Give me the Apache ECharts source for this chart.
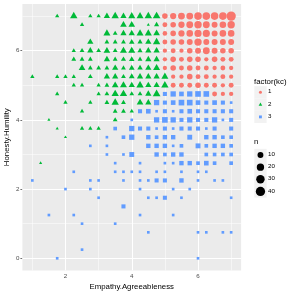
<!DOCTYPE html>
<html><head><meta charset="utf-8">
<script src="https://cdn.jsdelivr.net/npm/echarts@6/dist/echarts.min.js"></script>
<style>html,body{margin:0;padding:0;background:#fff}#c{width:294px;height:294px}</style>
</head><body><div id="c"></div>
<script>
const xTicks = [2, 4, 6];
const yTicks = [0, 2, 4, 6];
const xMinor = [1, 3, 5, 7];
const yMinor = [1, 3, 5, 7];
const kcLevels = ['1', '2', '3'];
const kcColors = ['#F8766D', '#00BA38', '#619CFF'];
const sizeBreaks = [10, 20, 30, 40];

// [Empathy.Agreeableness, Honesty.Humility, n]
const kc1 = [
 [5,7,8],[5.25,7,12],[5.5,7,16],[5.75,7,16],[6,7,22],[6.25,7,22],[6.5,7,22],[6.75,7,22],[7,7,40],
 [5,6.75,5],[5.25,6.75,8],[5.5,6.75,12],[5.75,6.75,16],[6,6.75,20],[6.25,6.75,16],[6.5,6.75,10],[6.75,6.75,14],[7,6.75,20],
 [5,6.5,4],[5.25,6.5,8],[5.5,6.5,12],[5.75,6.5,14],[6,6.5,18],[6.25,6.5,18],[6.5,6.5,10],[6.75,6.5,14],[7,6.5,14],
 [5,6.25,5],[5.25,6.25,8],[5.5,6.25,8],[5.75,6.25,10],[6,6.25,20],[6.25,6.25,10],[6.5,6.25,10],[6.75,6.25,10],[7,6.25,10],
 [5,6,3],[5.25,6,5],[5.5,6,3],[5.75,6,8],[6,6,10],[6.25,6,16],[6.5,6,10],[6.75,6,8],[7,6,8],
 [5,5.75,3],[5.25,5.75,8],[5.5,5.75,5],[5.75,5.75,8],[6,5.75,8],[6.25,5.75,3],[6.5,5.75,8],[6.75,5.75,5],[7,5.75,5],
 [5,5.5,3],[5.25,5.5,8],[5.5,5.5,5],[5.75,5.5,8],[6,5.5,5],[6.25,5.5,5],[6.5,5.5,3],[6.75,5.5,5],[7,5.5,3],
 [5.25,5.25,3],[5.5,5.25,3],[5.75,5.25,8],[6,5.25,5],[6.25,5.25,5],[6.5,5.25,3],[6.75,5.25,5],[7,5.25,3],
 [5.25,5,5],[5.5,5,5],[5.75,5,5],[6,5,8],[6.25,5,5],[6.5,5,5],[6.75,5,3],[7,5,5],
 [6.5,4.75,5],[6.75,4.75,3],[7,4.75,3]
];
const kc2 = [
 [1.75,7,2],[2.25,7,14],[2.75,7,2],[3,7,2],[3.25,7,8],[3.5,7,14],[3.75,7,8],[4,7,12],[4.25,7,12],[4.5,7,14],[4.75,7,16],
 [2.5,6.75,2],[3.75,6.75,10],[4,6.75,10],[4.5,6.75,1],[4.75,6.75,4],
 [3.25,6.5,12],[3.5,6.5,3],[3.75,6.5,8],[4,6.5,8],[4.25,6.5,12],[4.5,6.5,12],[4.75,6.5,10],
 [2.75,6.25,8],[3.25,6.25,3],[3.5,6.25,3],[3.75,6.25,3],[4,6.25,5],[4.25,6.25,4],[4.5,6.25,8],[4.75,6.25,14],
 [2.25,6,2],[2.5,6,3],[2.75,6,8],[3,6,3],[3.25,6,10],[3.5,6,3],[3.75,6,12],[4,6,12],[4.25,6,4],[4.5,6,8],[4.75,6,8],
 [2.25,5.75,3],[2.5,5.75,3],[2.75,5.75,3],[3.25,5.75,8],[3.5,5.75,3],[3.75,5.75,4],[4,5.75,5],[4.25,5.75,3],[4.5,5.75,8],[4.75,5.75,8],
 [2.5,5.5,10],[2.75,5.5,3],[3,5.5,3],[3.25,5.5,3],[3.5,5.5,8],[3.75,5.5,3],[4,5.5,6],[4.25,5.5,5],[4.5,5.5,8],[4.75,5.5,12],
 [1,5.25,2],[1.75,5.25,2],[2,5.25,2],[2.25,5.25,2],[2.75,5.25,3],[3.25,5.25,8],[3.5,5.25,8],[3.75,5.25,3],[4,5.25,6],[4.25,5.25,8],[4.5,5.25,8],[4.75,5.25,8],[5,5.25,12],
 [2.25,5,2],[2.5,5,2],[3,5,2],[3.25,5,3],[3.5,5,10],[3.75,5,12],[4,5,8],[4.25,5,14],[4.5,5,8],[4.75,5,8],[5,5,14],
 [1.75,4.75,2],[3,4.75,2],[3.25,4.75,3],[3.5,4.75,14],[3.75,4.75,14],[4,4.75,3],[4.25,4.75,3],[4.5,4.75,8],[4.75,4.75,16],
 [2,4.5,2],[2.75,4.5,2],[3.25,4.5,3],[3.5,4.5,14],[3.75,4.5,3],[4.25,4.5,10],[4.5,4.5,8],
 [2.5,4.25,2],[3.5,4.25,3],[3.75,4.25,3],[4,4.25,2],
 [1.5,4,1],[3.5,4,3],
 [1.75,3.75,1],[2.5,3.75,2],[2.75,3.75,2],[3,3.75,2],
 [2,3.5,1],
 [1.25,2.75,1]
];
const kc3 = [
 [5,4.75,3],[5.25,4.75,8],[5.5,4.75,5],[5.75,4.75,8],[6,4.75,10],[6.25,4.75,10],
 [4.75,4.5,8],[5,4.5,3],[5.25,4.5,5],[5.5,4.5,10],[5.75,4.5,10],[6,4.5,5],[6.25,4.5,3],[6.5,4.5,5],[6.75,4.5,3],[7,4.5,1],
 [4.25,4.25,3],[4.5,4.25,5],[4.75,4.25,1],[5,4.25,3],[5.25,4.25,1],[5.5,4.25,3],[5.75,4.25,5],[6,4.25,3],[6.25,4.25,3],[6.5,4.25,3],[6.75,4.25,3],[7,4.25,3],
 [4,4,1],[4.75,4,8],[5,4,10],[5.25,4,8],[5.5,4,3],[5.75,4,8],[6,4,3],[6.25,4,3],[6.5,4,8],[6.75,4,1],[7,4,3],
 [3.5,3.75,2],[4,3.75,8],[4.25,3.75,3],[4.5,3.75,3],[4.75,3.75,1],[5,3.75,3],[5.25,3.75,1],[5.5,3.75,3],[5.75,3.75,3],[6,3.75,3],[6.25,3.75,1],[6.5,3.75,3],[7,3.75,3],
 [3.25,3.5,1],[3.75,3.5,2],[4,3.5,8],[4.5,3.5,4],[4.75,3.5,2],[5,3.5,4],[5.25,3.5,4],[5.75,3.5,6],[6.25,3.5,4],[6.5,3.5,4],[6.75,3.5,2],[7,3.5,2],
 [2.75,3.25,1],[3.25,3.25,1],[4.5,3.25,4],[4.75,3.25,4],[5,3.25,4],[5.25,3.25,1],[5.5,3.25,2],[6,3.25,6],[6.25,3.25,2],[6.5,3.25,4],[6.75,3.25,4],[7,3.25,2],
 [3.25,3,1],[3.75,3,1],[4,3,6],[4.75,3,4],[5,3,2],[5.25,3,4],[5.5,3,4],[6.25,3,2],[6.5,3,2],[6.75,3,2],[7,3,2],
 [3.5,2.75,1],[4.25,2.75,1],[5,2.75,1],[5.25,2.75,1],[5.5,2.75,4],[5.75,2.75,4],[6,2.75,2],[6.25,2.75,5],[6.5,2.75,2],[7,2.75,2],
 [2.25,2.5,1],[3.5,2.5,1],[3.75,2.5,1],[4,2.5,1],[4.25,2.5,1],[4.75,2.5,1],[5,2.5,1],[5.5,2.5,1],[6,2.5,1],[6.25,2.5,1],
 [1,2.25,1],[2.75,2.25,1],[3,2.25,1],[3.75,2.25,1],[4.25,2.25,1],[4.5,2.25,1],[4.75,2.25,3],[5,2.25,3],[5.5,2.25,4],[6,2.25,1],[6.5,2.25,1],[6.75,2.25,1],
 [2,2,1],[2.75,2,1],[4.25,2,1],[5.25,2,1],[5.75,2,1],
 [3,1.75,1],[4.5,1.75,1],[4.75,1.75,1],[5,1.75,3],[5.5,1.75,1],[7,1.75,1],
 [3.75,1.5,3],
 [1.5,1.25,1],[2.25,1.25,1],[4.25,1.25,1],[5.25,1.25,1],
 [2.5,1,1],[3.5,1,1],
 [4.5,0.75,1],[6,0.75,1],[6.25,0.75,1],[6.75,0.75,1],[7,0.75,1],
 [2.5,0.25,1],
 [1.75,0,1],[6,0,1]
];

const nMin = 1, nMax = 42;
function diam(n) { return 2.8 + 6.7 * Math.sqrt(Math.max(0, n - nMin) / (nMax - nMin)); }
const shapeOf = ['circle', 'triangle', 'rect'];
function symSize(k, n) {
  const d = diam(n);
  if (k === 0) return d;
  if (k === 1) return [1.12 * d, 0.97 * d];
  return 0.95 * d;
}
function makeData(arr, k) {
  return arr.map(p => {
    const item = { value: p };
    if (k === 1) item.symbolOffset = [0, -0.16 * diam(p[2])];
    return item;
  });
}

const chart = echarts.init(document.getElementById('c'), null, { renderer: 'canvas' });
const gridLines = [];
xMinor.forEach(v => gridLines.push({ xAxis: v, lineStyle: { color: '#fff', width: 0.5, type: 'solid' } }));
yMinor.forEach(v => gridLines.push({ yAxis: v, lineStyle: { color: '#fff', width: 0.5, type: 'solid' } }));
xTicks.forEach(v => gridLines.push({ xAxis: v, lineStyle: { color: '#fff', width: 1, type: 'solid' } }));
yTicks.forEach(v => gridLines.push({ yAxis: v, lineStyle: { color: '#fff', width: 1, type: 'solid' } }));

const series = [{
  type: 'line', data: [], z: 1, silent: true,
  markLine: { silent: true, symbol: ['none', 'none'], label: { show: false }, z: 1, animation: false, data: gridLines }
}];
[kc1, kc2, kc3].forEach((arr, k) => {
  series.push({
    name: kcLevels[k], type: 'scatter', z: 3, symbol: shapeOf[k],
    symbolSize: (v) => symSize(k, v[2]),
    itemStyle: { color: kcColors[k], opacity: 1 },
    data: makeData(arr, k)
  });
});

const F = 'Liberation Sans, Arial, sans-serif';
const graphic = [];
graphic.push({ type: 'text', left: 254, top: 78, style: { text: 'factor(kc)', font: '7.8px ' + F, fill: '#000' } });
kcLevels.forEach((lv, i) => {
  const cy = 92.3 + 12.3 * i;
  graphic.push({ type: 'rect', shape: { x: 254.3, y: cy - 6.15, width: 12.3, height: 12.3 }, style: { fill: '#F2F2F2' } });
  const d = 3.0;
  let sh;
  if (i === 0) sh = { type: 'circle', shape: { cx: 260.45, cy: cy, r: d / 2 } };
  else if (i === 1) sh = { type: 'polygon', shape: { points: [[260.45, cy - 0.7 * d], [260.45 - 0.6 * d, cy + 0.35 * d], [260.45 + 0.6 * d, cy + 0.35 * d]] } };
  else sh = { type: 'rect', shape: { x: 260.45 - 0.475 * d, y: cy - 0.475 * d, width: 0.95 * d, height: 0.95 * d } };
  sh.style = { fill: kcColors[i] };
  graphic.push(sh);
  graphic.push({ type: 'text', left: 268, top: cy - 3.6, style: { text: lv, font: '6.2px ' + F, fill: '#000' } });
});
graphic.push({ type: 'text', left: 254, top: 138, style: { text: 'n', font: '7.8px ' + F, fill: '#000' } });
sizeBreaks.forEach((b, i) => {
  const cy = 155 + 12.15 * i;
  graphic.push({ type: 'rect', shape: { x: 254.3, y: cy - 6.15, width: 12.3, height: 12.3 }, style: { fill: '#F2F2F2' } });
  graphic.push({ type: 'circle', shape: { cx: 260.45, cy: cy, r: diam(b) / 2 }, style: { fill: '#000' } });
  graphic.push({ type: 'text', left: 268, top: cy - 3.6, style: { text: String(b), font: '6.2px ' + F, fill: '#000' } });
});

chart.setOption({
  animation: false,
  backgroundColor: '#fff',
  grid: { left: 22.4, right: 52.9, top: 4, bottom: 23.6, show: true, backgroundColor: '#EBEBEB', borderWidth: 0, containLabel: false, outerBoundsMode: 'none' },
  xAxis: {
    type: 'value', min: 0.7, max: 7.3,
    name: 'Empathy.Agreeableness', nameLocation: 'middle', nameGap: 12, nameMoveOverlap: false,
    nameTextStyle: { fontSize: 7.8, fontFamily: F, color: '#000' },
    axisLine: { show: false },
    axisTick: { show: true, length: 2, lineStyle: { color: '#333', width: 0.7 }, customValues: xTicks },
    axisLabel: { fontSize: 6.2, fontFamily: F, color: '#4D4D4D', margin: 3, customValues: xTicks },
    splitLine: { show: false }
  },
  yAxis: {
    type: 'value', min: -0.35, max: 7.35,
    name: 'Honesty.Humility', nameLocation: 'middle', nameGap: 12, nameRotate: 90, nameMoveOverlap: false,
    nameTextStyle: { fontSize: 7.8, fontFamily: F, color: '#000' },
    axisLine: { show: false },
    axisTick: { show: true, length: 2, lineStyle: { color: '#333', width: 0.7 }, customValues: yTicks },
    axisLabel: { fontSize: 6.2, fontFamily: F, color: '#4D4D4D', margin: 3, customValues: yTicks },
    splitLine: { show: false }
  },
  series: series,
  graphic: graphic
});
</script></body></html>
